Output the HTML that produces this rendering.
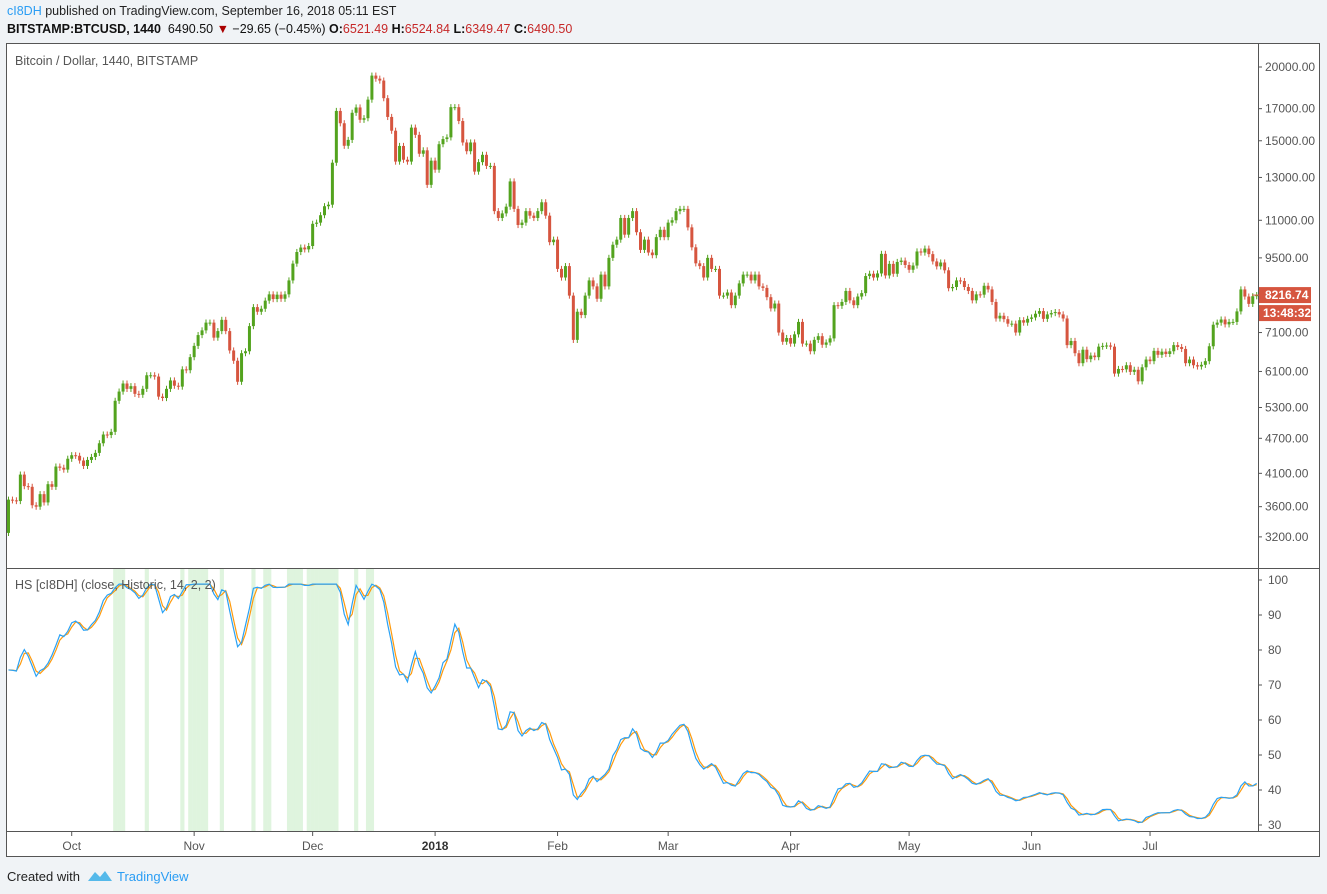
<!DOCTYPE html>
<html><head><meta charset="utf-8"><style>
body{margin:0;width:1327px;height:894px;background:#f0f3f6;font-family:"Liberation Sans",sans-serif;overflow:hidden;position:relative}
.t{position:absolute;white-space:nowrap}
</style></head><body>
<div class="t" style="left:7px;top:4px;font-size:12.5px;color:#222"><span style="color:#2a9df4">cI8DH</span> published on TradingView.com, September 16, 2018 05:11 EST</div>
<div class="t" style="left:7px;top:22px;font-size:12.5px;color:#111"><b>BITSTAMP:BTCUSD, 1440</b>&nbsp; 6490.50 <span style="color:#a00">▼</span> −29.65 (−0.45%) <b>O:</b><span style="color:#c62828">6521.49</span> <b>H:</b><span style="color:#c62828">6524.84</span> <b>L:</b><span style="color:#c62828">6349.47</span> <b>C:</b><span style="color:#c62828">6490.50</span></div>
<svg id="chart" width="1327" height="894" style="position:absolute;left:0;top:0" font-family="Liberation Sans, sans-serif">
<rect x="6.5" y="43.5" width="1313" height="813" fill="#fff" stroke="#555"/>
<line x1="1258.5" y1="43" x2="1258.5" y2="832" stroke="#555"/>
<line x1="6" y1="568.5" x2="1320" y2="568.5" stroke="#555"/>
<line x1="6" y1="831.5" x2="1320" y2="831.5" stroke="#555"/>
<g id="shade"></g><g id="candles"></g><g id="ind"></g><g id="axes"></g>
<text x="15" y="65" font-size="12.5" fill="#555">Bitcoin / Dollar, 1440, BITSTAMP</text>
<text x="15" y="589" font-size="12.5" fill="#555">HS [cI8DH] (close, Historic, 14, 2, 2)</text>
</svg>
<div class="t" style="left:7px;top:869px;font-size:13px;color:#222">Created with</div>
<svg style="position:absolute;left:87px;top:868px" width="26" height="16"><path d="M1 13 L8 4 L13 9 L18 3 L25 13 Z" fill="#55b9ea"/></svg>
<div class="t" style="left:117px;top:869px;font-size:13px;color:#2a9df4">TradingView</div>
<script>
const sep=[3700,3690,3680,4080,3900,3890,3620,3600,3780,3660,3930,3890,4210,4190,4160,4340];
const oct=[4400,4390,4310,4220,4320,4370,4440,4610,4770,4760,4820,5440,5640,5820,5700,5760,5590,5570,5700,6010,6010,5980,5530,5500,5700,5890,5770,5750,6150,6130,6450];
const nov=[6740,7030,7160,7380,7380,6960,7140,7460,7140,6620,6360,5860,6550,6600,7280,7840,7700,7790,8040,8240,8090,8230,8100,8240,8700,9290,9720,9890,9820,9950];
const dec=[10850,10900,11220,11620,11690,13770,16850,16060,14710,15050,16730,17080,16280,16380,17610,19340,19110,18970,17710,16460,15600,13830,14700,13930,13830,15790,15350,14260,14450,12630,13880];
const jan=[13400,14800,15100,15200,17100,17100,16200,14900,14400,14900,13300,13800,14200,13600,13600,11400,11100,11300,11600,12800,11500,10800,10900,11400,11200,11100,11400,11800,11200,10100,10200];
const feb=[9100,8800,9200,8200,6900,7700,7600,8200,8700,8500,8100,8900,8500,9500,10000,10200,11100,10400,11100,11400,10500,9800,10200,9700,9600,10300,10600,10300];
const mar=[10900,11000,11400,11500,11500,10700,9900,9300,9200,8800,9500,9100,9100,8200,8200,8300,7900,8200,8600,8900,8900,8700,8900,8500,8450,8150,7800,7950,7100,6850,6950];
const apr=[6800,7050,7400,6800,6800,6600,6900,7000,6770,6830,6940,7900,7880,8000,8350,8050,7900,8170,8280,8850,8930,8800,8940,9650,8870,9280,8930,9350,9400,9240];
const may=[9070,9220,9740,9700,9850,9640,9370,9190,9330,9050,8440,8480,8700,8680,8480,8350,8050,8240,8230,8520,8400,8000,7500,7580,7480,7350,7350,7100,7450,7380,7490];
const jun=[7530,7640,7720,7490,7620,7660,7690,7620,7500,6760,6870,6550,6300,6640,6400,6490,6450,6720,6740,6750,6720,6050,6160,6150,6250,6090,6140,5870,6200,6390];
const jul=[6350,6610,6510,6590,6530,6600,6760,6710,6660,6300,6390,6250,6220,6260,6350,6730,7320,7380,7470,7330,7400,7400,7710,8400,8170,7940,8180,8216.74];
const firstOpen=3250;
const priorHigh=4980;
const priceTicks=[20000,17000,15000,13000,11000,9500,7100,6100,5300,4700,4100,3600,3200];
const indTicks=[100,90,80,70,60,50,40,30];
const monthLabels=["Oct","Nov","Dec","2018","Feb","Mar","Apr","May","Jun","Jul"];
const monthDayIdx=[16,47,77,108,139,167,198,228,259,289];
const closes=[].concat(sep,oct,nov,dec,jan,feb,mar,apr,may,jun,jul);

const NS="http://www.w3.org/2000/svg";
function mk(t,a,p){const e=document.createElementNS(NS,t);for(const k in a)e.setAttribute(k,a[k]);p.appendChild(e);return e;}
const x0=8.5,dx=3.95;
const X=i=>x0+i*dx;
const lnTop=Math.log(20000),pyTop=67,pk=256.4;
const Y=v=>pyTop+(lnTop-Math.log(v))*pk;
const YI=v=>580+(100-v)*3.5;
const cg=document.getElementById('candles'),sg=document.getElementById('shade'),ig=document.getElementById('ind'),ag=document.getElementById('axes');
let prev=firstOpen,runMax=priorHigh;const raw=[];
closes.forEach((c,i)=>{
  const o=prev,hi=Math.max(o,c)*1.012,lo=Math.min(o,c)*0.988,up=c>=o,col=up?'#53a31e':'#d6553f';
  const w=mk('line',{x1:X(i),x2:X(i),y1:Y(hi),y2:Y(lo),stroke:col,'stroke-width':1},cg);
  
  
  const b=mk('rect',{x:X(i)-1.5,width:3,y:Math.min(Y(o),Y(c)),height:Math.max(1,Math.abs(Y(o)-Y(c))),fill:col},cg);
  
  
  if(hi>runMax){const s=mk('rect',{x:X(i)-2,width:dx+0.2,y:569,height:262,fill:'#dff4de'},sg);
    
    
    runMax=hi;}
  raw.push(c/runMax*100);prev=c;
});
const blue=raw.map((v,i)=>i?(v+raw[i-1])/2:v);
const orange=blue.map((v,i)=>i?(v+blue[i-1])/2:v);
[[orange,'#ff9a0c','hs-signal-line'],[blue,'#2aa2f5','hs-line']].forEach(([s,col,nm])=>{
  const p=mk('polyline',{points:s.map((v,i)=>X(i)+','+YI(v)).join(' '),fill:'none',stroke:col,'stroke-width':1.2},ig);
  
  
});
priceTicks.forEach(v=>{mk('line',{x1:1258,x2:1262,y1:Y(v),y2:Y(v),stroke:'#555'},ag);
  const t=mk('text',{x:1265,y:Y(v)+4,'font-size':12,fill:'#555'},ag);t.textContent=v.toFixed(2);
  
  });
indTicks.forEach(v=>{mk('line',{x1:1258,x2:1262,y1:YI(v),y2:YI(v),stroke:'#555'},ag);
  const t=mk('text',{x:1268,y:YI(v)+4,'font-size':12,fill:'#555'},ag);t.textContent=v;
  
  });
monthLabels.forEach((m,k)=>{const x=X(monthDayIdx[k]);mk('line',{x1:x,x2:x,y1:832,y2:836,stroke:'#555'},ag);
  const t=mk('text',{x:x,y:850,'font-size':12,fill:m==='2018'?'#333':'#555','font-weight':m==='2018'?'bold':'normal','text-anchor':'middle'},ag);t.textContent=m;
  
  });
const last=closes[closes.length-1],ly=Y(last);
mk('line',{x1:1252,x2:1262,y1:ly,y2:ly,stroke:'#d6553f'},ag);
const r1=mk('rect',{x:1259,y:ly-8,width:52,height:16,fill:'#d6553f'},ag);


const t1=mk('text',{x:1265,y:ly+4,'font-size':12,fill:'#fff','font-weight':'bold'},ag);t1.textContent=last.toFixed(2);
const r2=mk('rect',{x:1259,y:ly+10,width:52,height:16,fill:'#d6553f'},ag);


const t2=mk('text',{x:1263,y:ly+22,'font-size':12,fill:'#fff','font-weight':'bold'},ag);t2.textContent='13:48:32';
</script>
</body></html>
